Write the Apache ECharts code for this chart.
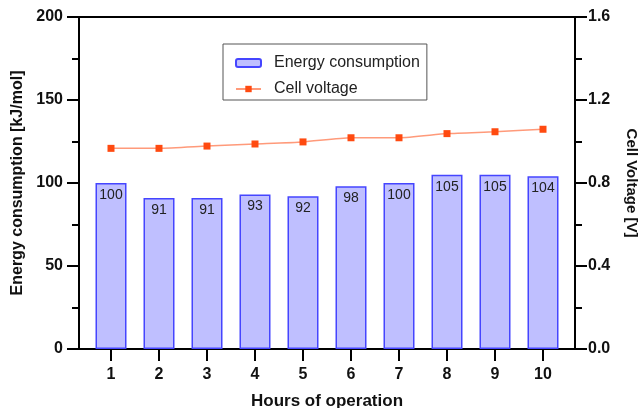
<!DOCTYPE html>
<html>
<head>
<meta charset="utf-8">
<script src="https://cdn.jsdelivr.net/npm/echarts@6/dist/echarts.min.js"></script>
<style>html,body{margin:0;padding:0;background:#fff;}#c{width:641px;height:408px;}</style>
</head>
<body>
<div id="c"></div>
<script>
const hours = [1, 2, 3, 4, 5, 6, 7, 8, 9, 10];
const energy = [100, 91, 91, 93, 92, 98, 100, 105, 105, 104];
const voltage = [0.967, 0.967, 0.978, 0.988, 0.998, 1.018, 1.018, 1.038, 1.047, 1.059];
const leftTicks = [0, 50, 100, 150, 200];
const rightTicks = [0, 0.4, 0.8, 1.2, 1.6];

const FONT = 'Liberation Sans, Arial, sans-serif';
const chart = echarts.init(document.getElementById('c'));
chart.setOption({
  animation: false,
  backgroundColor: '#fff',
  textStyle: { fontFamily: FONT },
  grid: { left: 79, right: 66, top: 17, bottom: 59, containLabel: false, outerBoundsMode: 'none',
    show: true, borderColor: '#000', borderWidth: 2, backgroundColor: 'transparent' },
  legend: {
    orient: 'vertical', left: 223, top: 44,
    borderColor: '#555', borderWidth: 1,
    padding: [11, 7, 3, 12], itemGap: 10,
    itemWidth: 25, itemHeight: 8,
    textStyle: { fontSize: 16, color: '#222', fontFamily: FONT, padding: [0, 0, 0, 8] },
    data: ['Energy consumption', 'Cell voltage']
  },
  xAxis: {
    type: 'value', min: 1 / 3, max: 32 / 3,
    name: 'Hours of operation', nameLocation: 'middle', nameGap: 44,
    nameTextStyle: { fontSize: 17, fontWeight: 'bold', color: '#111', fontFamily: FONT },
    axisLine: { show: true, lineStyle: { color: '#000', width: 2 } },
    axisTick: { show: true, length: 12, lineStyle: { color: '#000', width: 2 }, customValues: hours },
    axisLabel: { fontSize: 16, fontWeight: 'bold', color: '#111', margin: 18, customValues: hours, fontFamily: FONT },
    splitLine: { show: false }
  },
  yAxis: [
    {
      type: 'value', min: leftTicks[0], max: leftTicks[leftTicks.length - 1], interval: 50,
      name: 'Energy consumption [kJ/mol]', nameLocation: 'middle', nameGap: 50,
      nameTextStyle: { fontSize: 16, fontWeight: 'bold', color: '#111', fontFamily: FONT },
      axisLine: { show: true, lineStyle: { color: '#000', width: 2 } },
      axisTick: { show: true, length: 12, lineStyle: { color: '#000', width: 2 } },
      minorTick: { show: true, splitNumber: 2, length: 7, lineStyle: { color: '#000', width: 2 } },
      axisLabel: { fontSize: 16, fontWeight: 'bold', color: '#111', margin: 16, fontFamily: FONT },
      splitLine: { show: false }
    },
    {
      type: 'value', min: rightTicks[0], max: rightTicks[rightTicks.length - 1], interval: 0.4,
      name: 'Cell Voltage [V]', nameLocation: 'middle', nameGap: 49, nameRotate: -90,
      nameTextStyle: { fontSize: 15, fontWeight: 'bold', color: '#111', fontFamily: FONT },
      axisLine: { show: true, lineStyle: { color: '#000', width: 2 } },
      axisTick: { show: true, length: 12, lineStyle: { color: '#000', width: 2 } },
      minorTick: { show: true, splitNumber: 2, length: 7, lineStyle: { color: '#000', width: 2 } },
      axisLabel: { fontSize: 16, fontWeight: 'bold', color: '#111', margin: 13, fontFamily: FONT,
        formatter: v => v.toFixed(1) },
      splitLine: { show: false }
    }
  ],
  series: [
    {
      name: 'Energy consumption', type: 'bar', yAxisIndex: 0, barWidth: 31,
      data: hours.map((h, i) => [h, energy[i]]),
      itemStyle: { color: '#BFBFFF', borderColor: '#4545FF', borderWidth: 1.5 },
      label: { show: true, position: 'insideTop', distance: 5, fontSize: 14, color: '#222', fontFamily: FONT,
        formatter: p => p.value[1] }
    },
    {
      name: 'Cell voltage', type: 'line', yAxisIndex: 1, smooth: 0.2,
      data: hours.map((h, i) => [h, voltage[i]]),
      symbol: 'rect', symbolSize: 7,
      lineStyle: { color: '#FF9A7A', width: 1.5 },
      itemStyle: { color: '#FF4A10' }
    }
  ]
});
</script>
</body>
</html>
